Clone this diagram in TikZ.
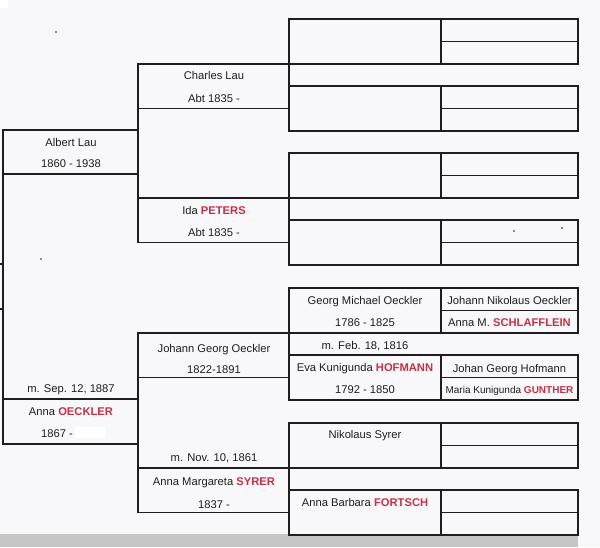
\documentclass[tikz,border=0pt]{standalone}
\usepackage{fontspec}
\setmainfont{Liberation Sans}
\definecolor{inkred}{RGB}{196,50,70}
\definecolor{ink}{RGB}{30,30,30}
\definecolor{paper}{RGB}{248,248,250}
\definecolor{scanband}{RGB}{198,198,198}
\newcommand\surn[1]{\textcolor{inkred}{\textbf{#1}}}
\begin{document}
\begin{tikzpicture}[x=1pt,y=-1pt,
  rule/.style={draw=ink,line width=1.9pt},
  lbl/.style={font=\fontsize{11.2}{13}\selectfont,text=ink,inner sep=0pt,text height=8pt,text depth=0pt,anchor=center},
  smalllbl/.style={lbl,font=\fontsize{10}{12}\selectfont},
  speck/.style={fill=ink,draw=none}]
\useasboundingbox (0,0) rectangle (600,547);
\fill[paper] (0,0) rectangle (600,547);
\fill[white] (0,0) rectangle (8,8);
\fill[scanband] (0,534) rectangle (578,547);
% generation 1
\draw[rule] (0,264) -- (3,264);
\draw[rule] (0,309) -- (3,309);
\draw[rule] (138,130) -- (3,130) -- (3,444) -- (138,444);
\draw[rule] (3,174) -- (138,174);
\draw[rule] (3,399) -- (138,399);
% generation 2
\draw[rule] (289,64) -- (138,64) -- (138,242.5) -- (289,242.5);
\draw[rule] (138,108.5) -- (289,108.5);
\draw[rule] (138,198) -- (289,198);
\draw[rule] (289,333) -- (138,333) -- (138,512.5) -- (289,512.5);
\draw[rule] (138,377.5) -- (289,377.5);
\draw[rule] (138,468) -- (289,468);
% generations 3 and 4
\foreach \t in {19,153,288,423}{
  \draw[rule] (289,\t) -- (289,\t+112);
  \foreach \b in {\t,\t+67}{
    \draw[rule] (289,\b) rectangle (578,\b+45);
    \draw[rule] (441,\b) -- (441,\b+45);
    \draw[rule] (441,\b+22.5) -- (578,\b+22.5);
  }
}
% gen 1 texts
\node[lbl] (albert) at (71,142) {Albert Lau};
\node[lbl] (albertd) at (71,163) {1860 - 1938};
\node[lbl] (marr1) at (71,388) {m. Sep. 12, 1887};
\node[lbl] (anna) at (71,411) {Anna \surn{OECKLER}};
\node[lbl,anchor=west] (annad) at (41,433) {1867 -};
\fill[white] (75,427) rectangle (105,438);
% gen 2 texts
\node[lbl] (charles) at (214,75) {Charles Lau};
\node[lbl] (charlesd) at (214,98) {Abt 1835 -};
\node[lbl] (ida) at (214,210) {Ida \surn{PETERS}};
\node[lbl] (idad) at (214,232) {Abt 1835 -};
\node[lbl] (jgo) at (214,348) {Johann Georg Oeckler};
\node[lbl] (jgod) at (214,369) {1822-1891};
\node[lbl] (marr2) at (214,457) {m. Nov. 10, 1861};
\node[lbl] (ams) at (214,481) {Anna Margareta \surn{SYRER}};
\node[lbl] (amsd) at (214,504) {1837 -};
% gen 3 texts
\node[lbl] (gmo) at (365,300) {Georg Michael Oeckler};
\node[lbl] (gmod) at (365,322) {1786 - 1825};
\node[lbl] (marr3) at (365,345) {m. Feb. 18, 1816};
\node[lbl] (ekh) at (365,367) {Eva Kunigunda \surn{HOFMANN}};
\node[lbl] (ekhd) at (365,389) {1792 - 1850};
\node[lbl] (ns) at (365,434) {Nikolaus Syrer};
\node[lbl] (abf) at (365,502) {Anna Barbara \surn{FORTSCH}};
% gen 4 texts
\node[lbl] (jno) at (509.5,300) {Johann Nikolaus Oeckler};
\node[lbl] (ams2) at (509.5,322) {Anna M. \surn{SCHLAFFLEIN}};
\node[lbl] (jgh) at (509.5,368) {Johan Georg Hofmann};
\node[smalllbl] (mkg) at (509.5,389) {Maria Kunigunda \surn{GUNTHER}};
% scan specks
\fill[speck] (56,32) circle (0.8);
\fill[speck] (41,259) circle (0.8);
\fill[speck] (514,231) circle (0.8);
\fill[speck] (562,228) circle (0.8);
\end{tikzpicture}
\end{document}
